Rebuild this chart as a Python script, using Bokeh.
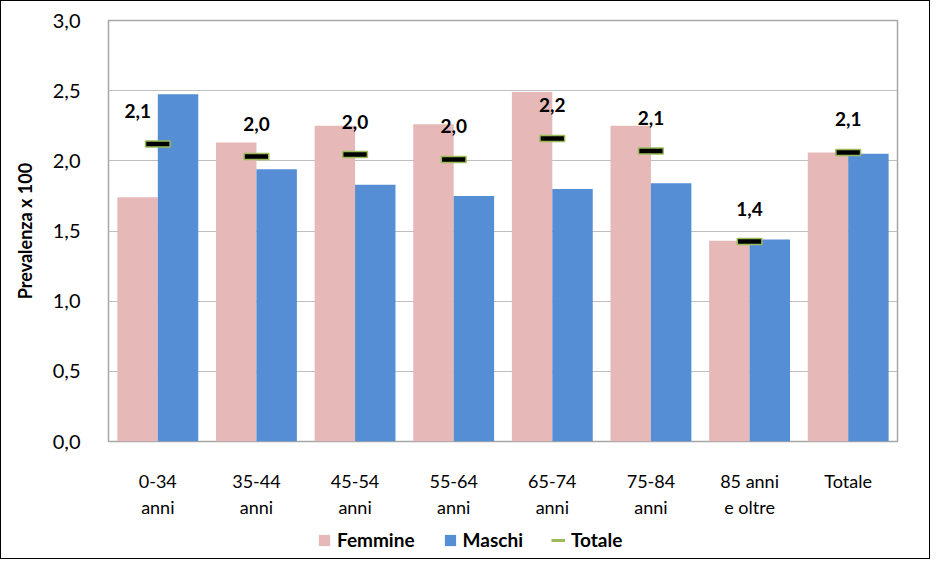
from bokeh.plotting import figure
from bokeh.layouts import column
from bokeh.models import ColumnDataSource, FactorRange, CustomJSTickFormatter, FixedTicker, Legend, LegendItem
from bokeh.transform import dodge
from bokeh.core.properties import value
from bokeh.embed import file_html
from bokeh.resources import INLINE

categories = ["0-34\nanni", "35-44\nanni", "45-54\nanni", "55-64\nanni", "65-74\nanni", "75-84\nanni", "85 anni\ne oltre", "Totale"]
femmine = [1.74, 2.13, 2.25, 2.26, 2.49, 2.25, 1.43, 2.06]
maschi = [2.475, 1.94, 1.83, 1.75, 1.80, 1.84, 1.44, 2.05]
totale = [2.12, 2.03, 2.045, 2.01, 2.16, 2.07, 1.425, 2.06]
totale_labels = ["2,1", "2,0", "2,0", "2,0", "2,2", "2,1", "1,4", "2,1"]
label_dx = [-20, 0, 0, 0, 0, 0, 0, 0]

FONT = "Lato"
PINK = "#E6B9B8"
BLUE = "#558ED5"
GREEN = "#9BBB59"

src = ColumnDataSource(dict(cat=categories, f=femmine, m=maschi, t=totale, lab=totale_labels, dx=label_dx))

p = figure(x_range=FactorRange(*categories, range_padding=0), y_range=(0, 3),
           width=928, height=519, output_backend="svg", toolbar_location=None,
           min_border_left=107, min_border_right=32, min_border_top=19, min_border_bottom=73)

rf = p.vbar(x=dodge("cat", -0.205, range=p.x_range), top="f", width=0.41, source=src,
            fill_color=PINK, line_color=None)
rm = p.vbar(x=dodge("cat", 0.205, range=p.x_range), top="m", width=0.41, source=src,
            fill_color=BLUE, line_color=None)
rt = p.rect(x="cat", y="t", width=0.25, height=6, height_units="screen", source=src,
            fill_color="black", line_color=GREEN, line_width=1.5)
p.text(x="cat", y="t", text="lab", source=src, x_offset="dx", y_offset=-33,
       text_align="center", text_baseline="middle", text_font=value(FONT),
       text_font_style="bold", text_font_size="19px", text_color="black")

p.outline_line_color = "#A6A6A6"
p.outline_line_width = 1.5
p.xgrid.grid_line_color = None
p.ygrid.grid_line_color = "#BFBFBF"
p.ygrid.grid_line_width = 1.2

p.yaxis.ticker = FixedTicker(ticks=[0, 0.5, 1.0, 1.5, 2.0, 2.5, 3.0])
p.yaxis.formatter = CustomJSTickFormatter(code="return tick.toFixed(1).replace('.', ',');")
p.yaxis.axis_label = "Prevalenza x 100"
p.yaxis.axis_label_text_font = FONT
p.yaxis.axis_label_text_font_style = "bold"
p.yaxis.axis_label_text_font_size = "18px"
p.yaxis.axis_label_text_color = "black"
p.yaxis.axis_label_standoff = 14
p.yaxis.major_label_standoff = 22
for ax in (p.xaxis, p.yaxis):
    ax.axis_line_color = None
    ax.major_tick_line_color = None
    ax.minor_tick_line_color = None
    ax.major_label_text_font = FONT
    ax.major_label_text_color = "black"
p.yaxis.major_label_text_font_size = "20px"
p.xaxis.major_label_text_font_size = "18px"
p.xaxis.major_label_standoff = 22

# legend strip (proxy renderers lie below this strip's visible y range)
q = figure(width=928, height=38, output_backend="svg", toolbar_location=None,
           x_range=(0, 3), y_range=(10, 11), min_border=0)
q.axis.visible = False
q.grid.visible = False
q.outline_line_color = None
lf = q.vbar(x="f", top="m", width=0, source=src, fill_color=PINK, line_color=None)
lm = q.vbar(x="m", top="f", width=0, source=src, fill_color=BLUE, line_color=None)
lt = q.line(x="f", y="t", source=src, line_color=GREEN, line_width=3)
legend = Legend(items=[LegendItem(label="Femmine", renderers=[lf]),
                       LegendItem(label="Maschi", renderers=[lm]),
                       LegendItem(label="Totale", renderers=[lt])],
                orientation="horizontal", location=(209, 7),
                label_text_font=FONT, label_text_font_style="bold", label_text_font_size="19px",
                label_text_color="black",
                border_line_color=None, background_fill_alpha=0,
                glyph_width=14, glyph_height=14, spacing=28, label_standoff=6,
                margin=0, padding=2)
q.add_layout(legend, "center")

layout = column(p, q, spacing=0)
layout.styles = {"border": "1px solid black"}

open("out.html", "w").write(file_html(layout, INLINE))
